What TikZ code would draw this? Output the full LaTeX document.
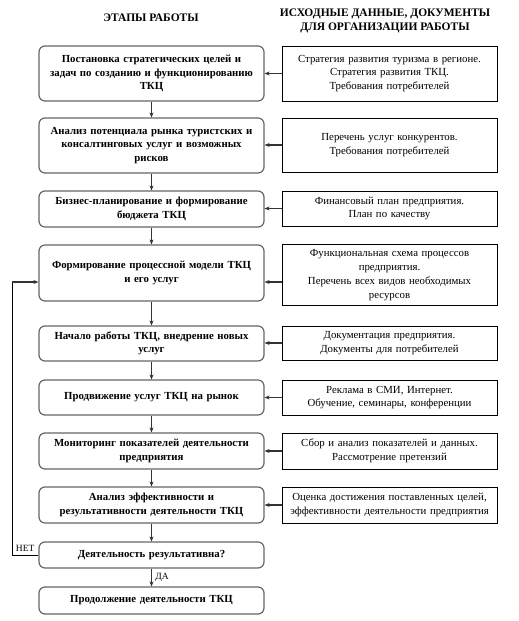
\documentclass[tikz,border=0pt]{standalone}
\usepackage{fontspec}
\setmainfont{Liberation Serif}
\usepackage{xcolor}
\usepackage{tikz}
\usetikzlibrary{arrows.meta, positioning}

\begin{document}
\begin{tikzpicture}[x=1pt, y=-1pt, font=\fontsize{10.8}{13.5}\selectfont,
  stage/.style={rectangle, rounded corners=6pt, draw=black!60, line width=1.2pt, fill=white, text width=215pt, inner xsep=5pt, align=center, font=\fontsize{10.8}{13.5}\selectfont\bfseries},
  source/.style={rectangle, draw=black, line width=0.8pt, fill=white, text width=209pt, inner xsep=3pt, align=center, inner ysep=0pt},
  flow/.style={draw=black!80, line width=1.2pt, -{Stealth[length=5pt, width=4pt]}}]
\useasboundingbox (0,0) rectangle (519,621);
\node[font=\fontsize{11.5}{14}\selectfont\bfseries] (title0) at (151, 18) {ЭТАПЫ РАБОТЫ};
\node[font=\fontsize{11.5}{14}\selectfont\bfseries, align=center] (title1) at (385, 20.5) {ИСХОДНЫЕ ДАННЫЕ, ДОКУМЕНТЫ\\ДЛЯ ОРГАНИЗАЦИИ РАБОТЫ};
\node[stage, minimum height=55pt] (stage1) at (151.5, 73.5) {Постановка стратегических целей и\\задач по созданию и функционированию\\ТКЦ};
\node[stage, minimum height=55pt] (stage2) at (151.5, 145.5) {Анализ потенциала рынка туристских и\\консалтинговых услуг и возможных\\рисков};
\node[stage, minimum height=36pt] (stage3) at (151.5, 209) {Бизнес-планирование и формирование\\бюджета ТКЦ};
\node[stage, minimum height=56pt] (stage4) at (151.5, 273) {Формирование процессной модели ТКЦ\\и его услуг};
\node[stage, minimum height=35pt] (stage5) at (151.5, 343.5) {Начало работы ТКЦ, внедрение новых\\услуг};
\node[stage, minimum height=35pt] (stage6) at (151.5, 397.5) {Продвижение услуг ТКЦ на рынок};
\node[stage, minimum height=36pt] (stage7) at (151.5, 451) {Мониторинг показателей деятельности\\предприятия};
\node[stage, minimum height=36pt] (stage8) at (151.5, 505) {Анализ эффективности и\\результативности деятельности ТКЦ};
\node[stage, minimum height=26pt] (stage9) at (151.5, 555) {Деятельность результативна?};
\node[stage, minimum height=27pt] (stage10) at (151.5, 600.5) {Продолжение деятельности ТКЦ};
\node[source, minimum height=55pt] (src1) at (389.5, 73.5) {Стратегия развития туризма в регионе.\\Стратегия развития ТКЦ.\\Требования потребителей};
\node[source, minimum height=54pt] (src2) at (389.5, 145) {Перечень услуг конкурентов.\\Требования потребителей};
\node[source, minimum height=35pt] (src3) at (389.5, 208.5) {Финансовый план предприятия.\\План по качеству};
\node[source, minimum height=61pt, font=\fontsize{10.8}{14}\selectfont] (src4) at (389.5, 275) {Функциональная схема процессов\\предприятия.\\Перечень всех видов необходимых\\ресурсов};
\node[source, minimum height=34pt] (src5) at (389.5, 343) {Документация предприятия.\\Документы для потребителей};
\node[source, minimum height=35pt] (src6) at (389.5, 397.5) {Реклама в СМИ, Интернет.\\Обучение, семинары, конференции};
\node[source, minimum height=36pt] (src7) at (389.5, 451) {Сбор и анализ показателей и данных.\\Рассмотрение претензий};
\node[source, minimum height=36pt] (src8) at (389.5, 505) {Оценка достижения поставленных целей,\\эффективности деятельности предприятия};
\coordinate (loop0) at (12, 555);
\coordinate (loop1) at (12, 282);
\draw[flow] (stage1) -- (stage2);
\draw[flow] (stage2) -- (stage3);
\draw[flow] (stage3) -- (stage4);
\draw[flow] (stage4) -- (stage5);
\draw[flow] (stage5) -- (stage6);
\draw[flow] (stage6) -- (stage7);
\draw[flow] (stage7) -- (stage8);
\draw[flow] (stage8) -- (stage9);
\draw[flow] (stage9) -- node[right, font=\fontsize{9.5}{11}\selectfont] {ДА} (stage10);
\draw[flow] (src1) -- (stage1);
\draw[flow] (src2) -- (src2 -| stage2.east);
\draw[flow] (src3) -- (src3 -| stage3.east);
\draw[flow] (src4.west |- loop1) -- (stage4.east |- loop1);
\draw[flow] (src5) -- (src5 -| stage5.east);
\draw[flow] (src6) -- (stage6);
\draw[flow] (src7) -- (stage7);
\draw[flow] (src8) -- (stage8);
\draw[black, line width=0.7pt] (stage9.west) -- node[above, font=\fontsize{9.5}{11}\selectfont] {НЕТ} (loop0) -- (loop1);
\draw[flow] (loop1) -- (stage4.west |- loop1);
\end{tikzpicture}
\end{document}
